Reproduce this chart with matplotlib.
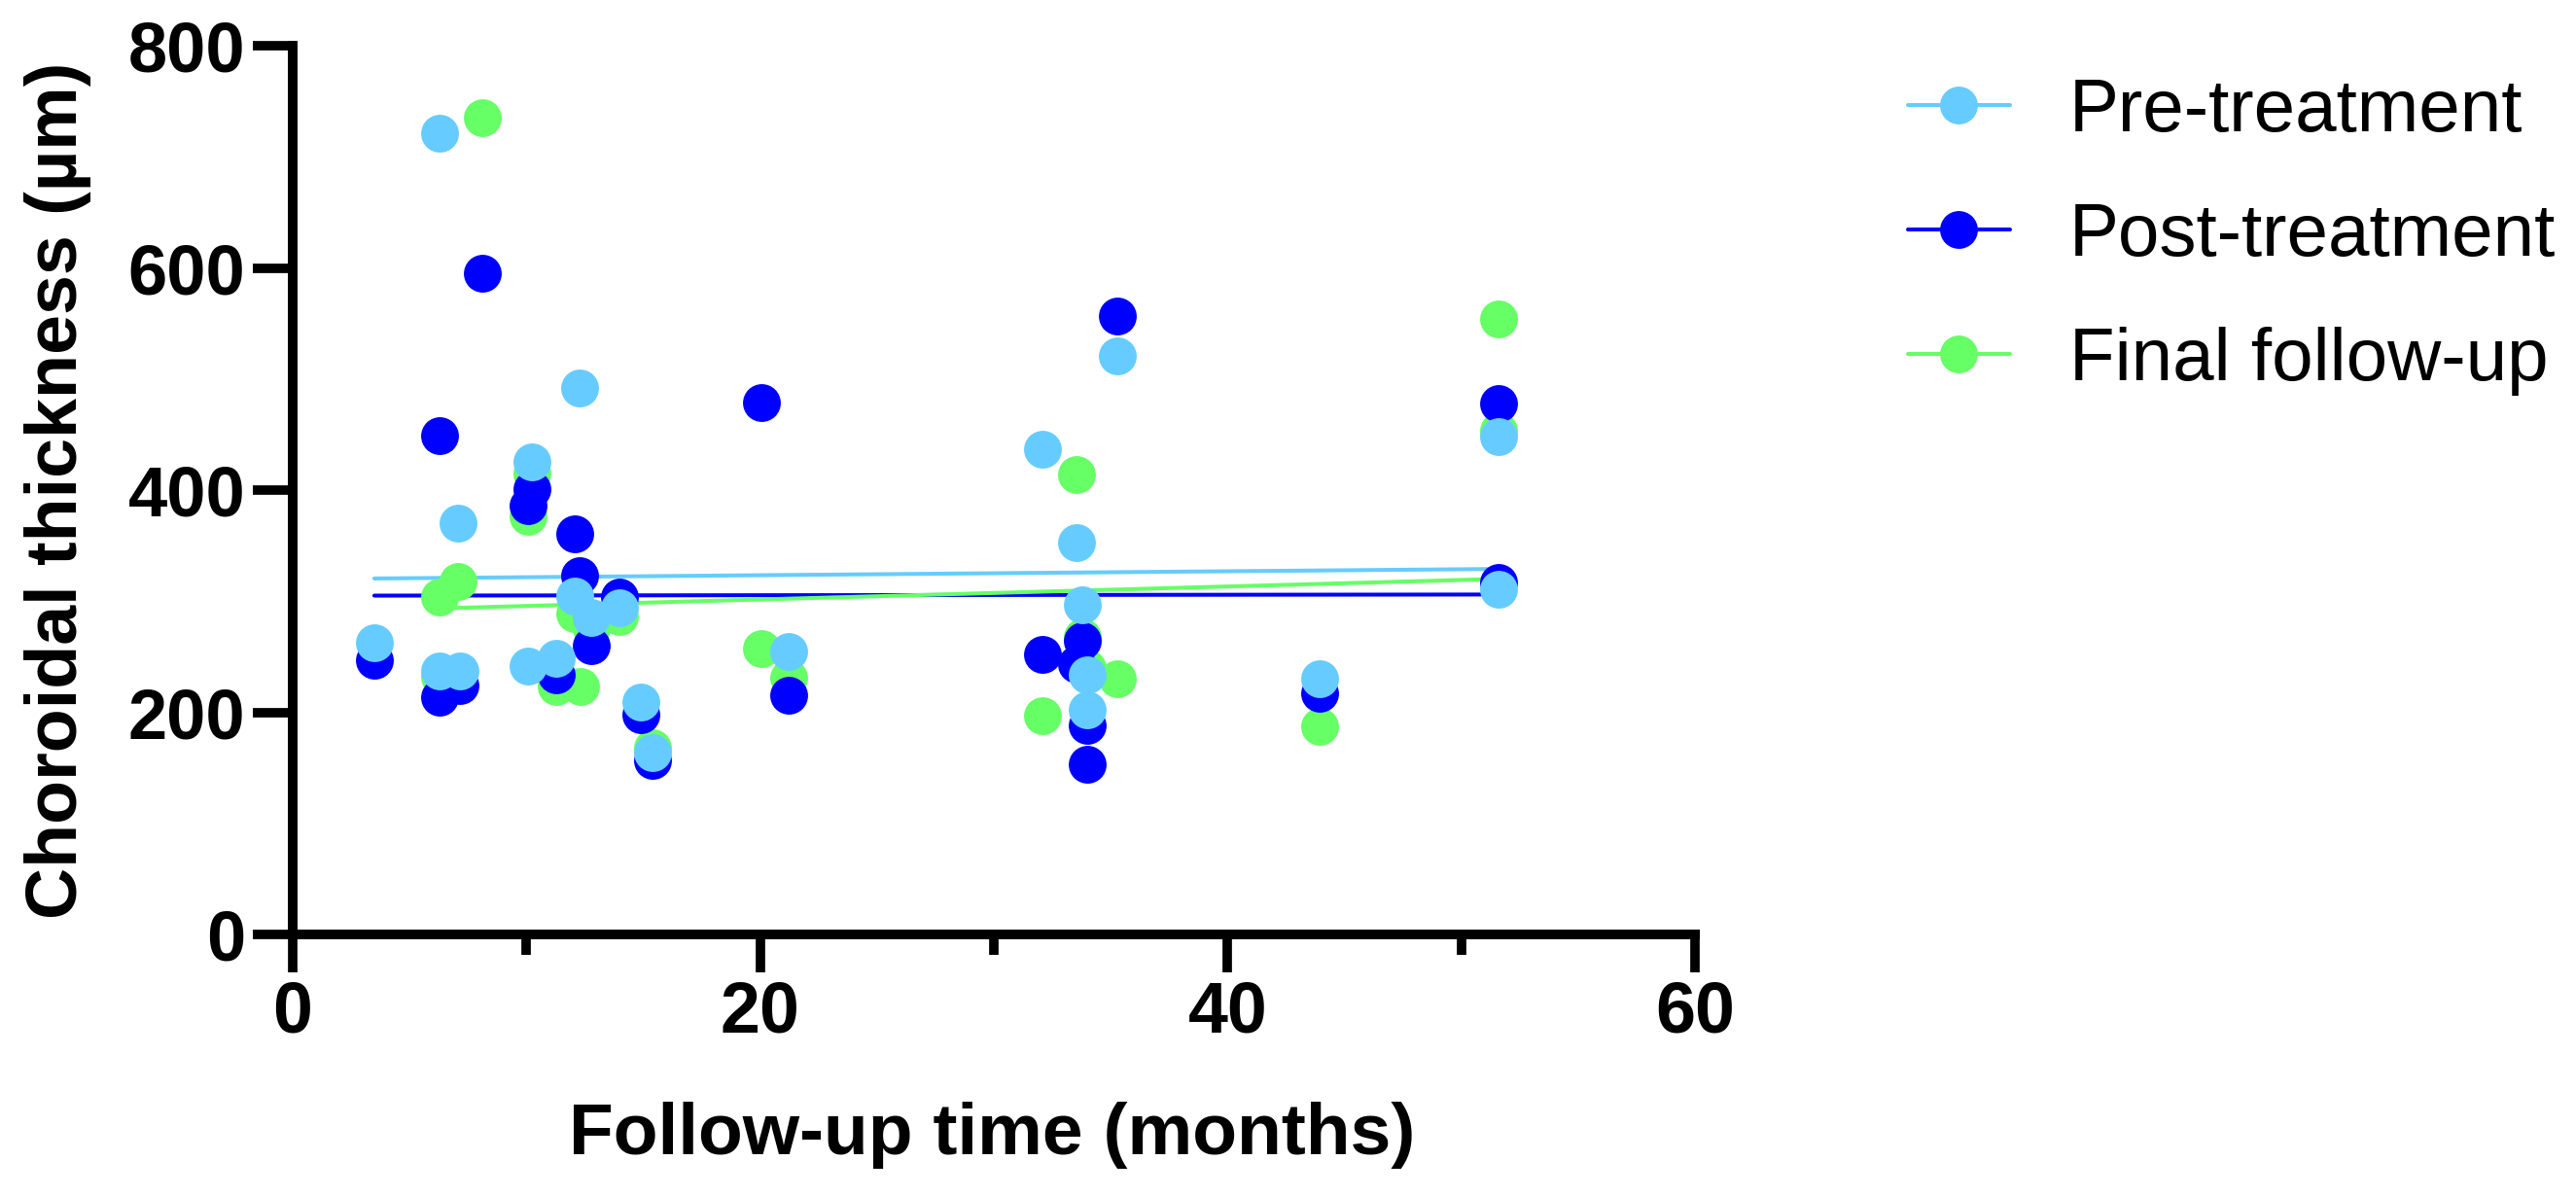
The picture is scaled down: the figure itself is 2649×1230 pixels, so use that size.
import numpy as np
import matplotlib
matplotlib.use("Agg")
import matplotlib.pyplot as plt
from matplotlib.lines import Line2D
from matplotlib import font_manager as fm

# ---- data ----
pre_x = [3.49, 6.28, 6.28, 7.06, 7.15, 10.05, 10.24, 11.28, 12.08, 12.28, 12.78, 13.99,
         14.9, 15.38, 21.2, 32.09, 33.55, 33.77, 34.0, 34.0, 35.27, 43.92, 51.6, 51.6]
pre_y = [263, 721, 237, 370, 237, 242, 425, 249, 305, 492, 285, 294,
         209, 164, 255, 437, 353, 297, 234, 202, 521, 230, 448, 311]

post_x = [3.49, 6.28, 6.28, 7.15, 8.1, 10.24, 10.05, 11.28, 12.08, 12.28, 12.78, 13.99,
          14.9, 15.38, 20.06, 21.2, 32.09, 33.55, 33.77, 34.0, 34.0, 35.27, 43.92, 51.6, 51.6]
post_y = [247, 449, 214, 224, 595, 401, 386, 234, 361, 323, 260, 304,
          198, 157, 479, 215, 252, 243, 264, 188, 153, 557, 217, 478, 317]

final_x = [6.28, 6.28, 7.06, 8.1, 10.24, 10.05, 11.28, 12.3, 12.08, 12.78, 13.99,
           15.38, 20.06, 21.2, 32.09, 33.55, 33.77, 34.0, 35.27, 43.92, 51.6, 51.6]
final_y = [304, 232, 318, 735, 415, 376, 223, 223, 289, 276, 286,
           168, 257, 231, 197, 414, 268, 240, 230, 187, 554, 453]

# fitted trend lines as drawn in the reference (x range, y at both ends)
fit_x = [[3.49, 51.6], [3.49, 51.6], [6.28, 51.6]]
fit_y = [[320.4, 329.0], [305.0, 306.0], [293.5, 320.0]]

series_names = ["Pre-treatment", "Post-treatment", "Final follow-up"]
series_colors = ["#66CCFF", "#0000FF", "#66FF66"]

x_ticks_major = [0, 20, 40, 60]
x_ticks_minor = [10, 30, 50]
y_ticks = [0, 200, 400, 600, 800]

# ---- figure ----
W, H, DPI = 2649, 1230, 100
fig = plt.figure(figsize=(W / DPI, H / DPI), dpi=DPI)
fig.patch.set_facecolor("white")

ax_left, ax_right, ax_top, ax_bottom = 301, 1743, 47, 961
ax = fig.add_axes([ax_left / W, (H - ax_bottom) / H,
                   (ax_right - ax_left) / W, (ax_bottom - ax_top) / H])
ax.set_xlim(0, 60)
ax.set_ylim(0, 800)

FONT = "Liberation Sans"
try:
    fm.findfont(fm.FontProperties(family="Liberation Sans Narrow", weight="bold"),
                fallback_to_default=False)
    XT_FONT, XT_SIZE = "Liberation Sans Narrow", 58
except Exception:
    XT_FONT, XT_SIZE = "Liberation Sans", 53

ms = 28
lw_line = 2.9

data = [(pre_x, pre_y), (post_x, post_y), (final_x, final_y)]
zorders = [5, 4, 3]

for fx, fy, c in zip(fit_x, fit_y, series_colors):
    ax.plot(fx, fy, color=c, lw=lw_line, solid_capstyle="round", zorder=2)

for (xs, ys), c, z in zip(data, series_colors, zorders):
    ax.plot(xs, ys, linestyle="none", marker="o", ms=ms, color=c,
            markeredgewidth=0, zorder=z, clip_on=False)

# spines / ticks
for s in ["top", "right"]:
    ax.spines[s].set_visible(False)
for s in ["left", "bottom"]:
    ax.spines[s].set_linewidth(7.2)
    ax.spines[s].set_capstyle("projecting")

ax.set_xticks(x_ticks_major)
ax.set_xticks(x_ticks_minor, minor=True)
ax.set_yticks(y_ticks)
ax.tick_params(axis="x", which="major", length=28.4, width=7.0, pad=5, labelsize=XT_SIZE)
ax.tick_params(axis="x", which="minor", length=15, width=7.0)
ax.tick_params(axis="y", which="major", length=29.5, width=7.0, pad=5.5, labelsize=52)
for lab in ax.get_xticklabels():
    lab.set_fontfamily(XT_FONT)
    lab.set_fontweight("bold")
for lab in ax.get_yticklabels():
    lab.set_fontfamily(FONT)
    lab.set_fontweight("bold")

# axis labels
fig.text(1020 / W, (H - 1187) / H, "Follow-up time (months)", ha="center", va="baseline",
         fontsize=54, fontweight="bold", family=FONT)
fig.text(79 / W, (H - 504) / H, "Choroidal thickness (\u00b5m)", ha="center", va="baseline",
         rotation=90, rotation_mode="anchor", fontsize=53, fontweight="bold", family=FONT)

# legend
handles = [Line2D([0], [0], color=c, lw=lw_line, marker="o", ms=ms, markeredgewidth=0,
                  solid_capstyle="round")
           for c in series_colors]
leg = fig.legend(handles, series_names, loc="upper left",
                 bbox_to_anchor=(1962 / W, (H - 80) / H), frameon=False,
                 prop={"family": FONT, "size": 55}, handlelength=1.37,
                 handletextpad=0.8, labelspacing=0.745, borderpad=0, borderaxespad=0,
                 numpoints=1)

fig.savefig("out.png", dpi=DPI, facecolor="white")
